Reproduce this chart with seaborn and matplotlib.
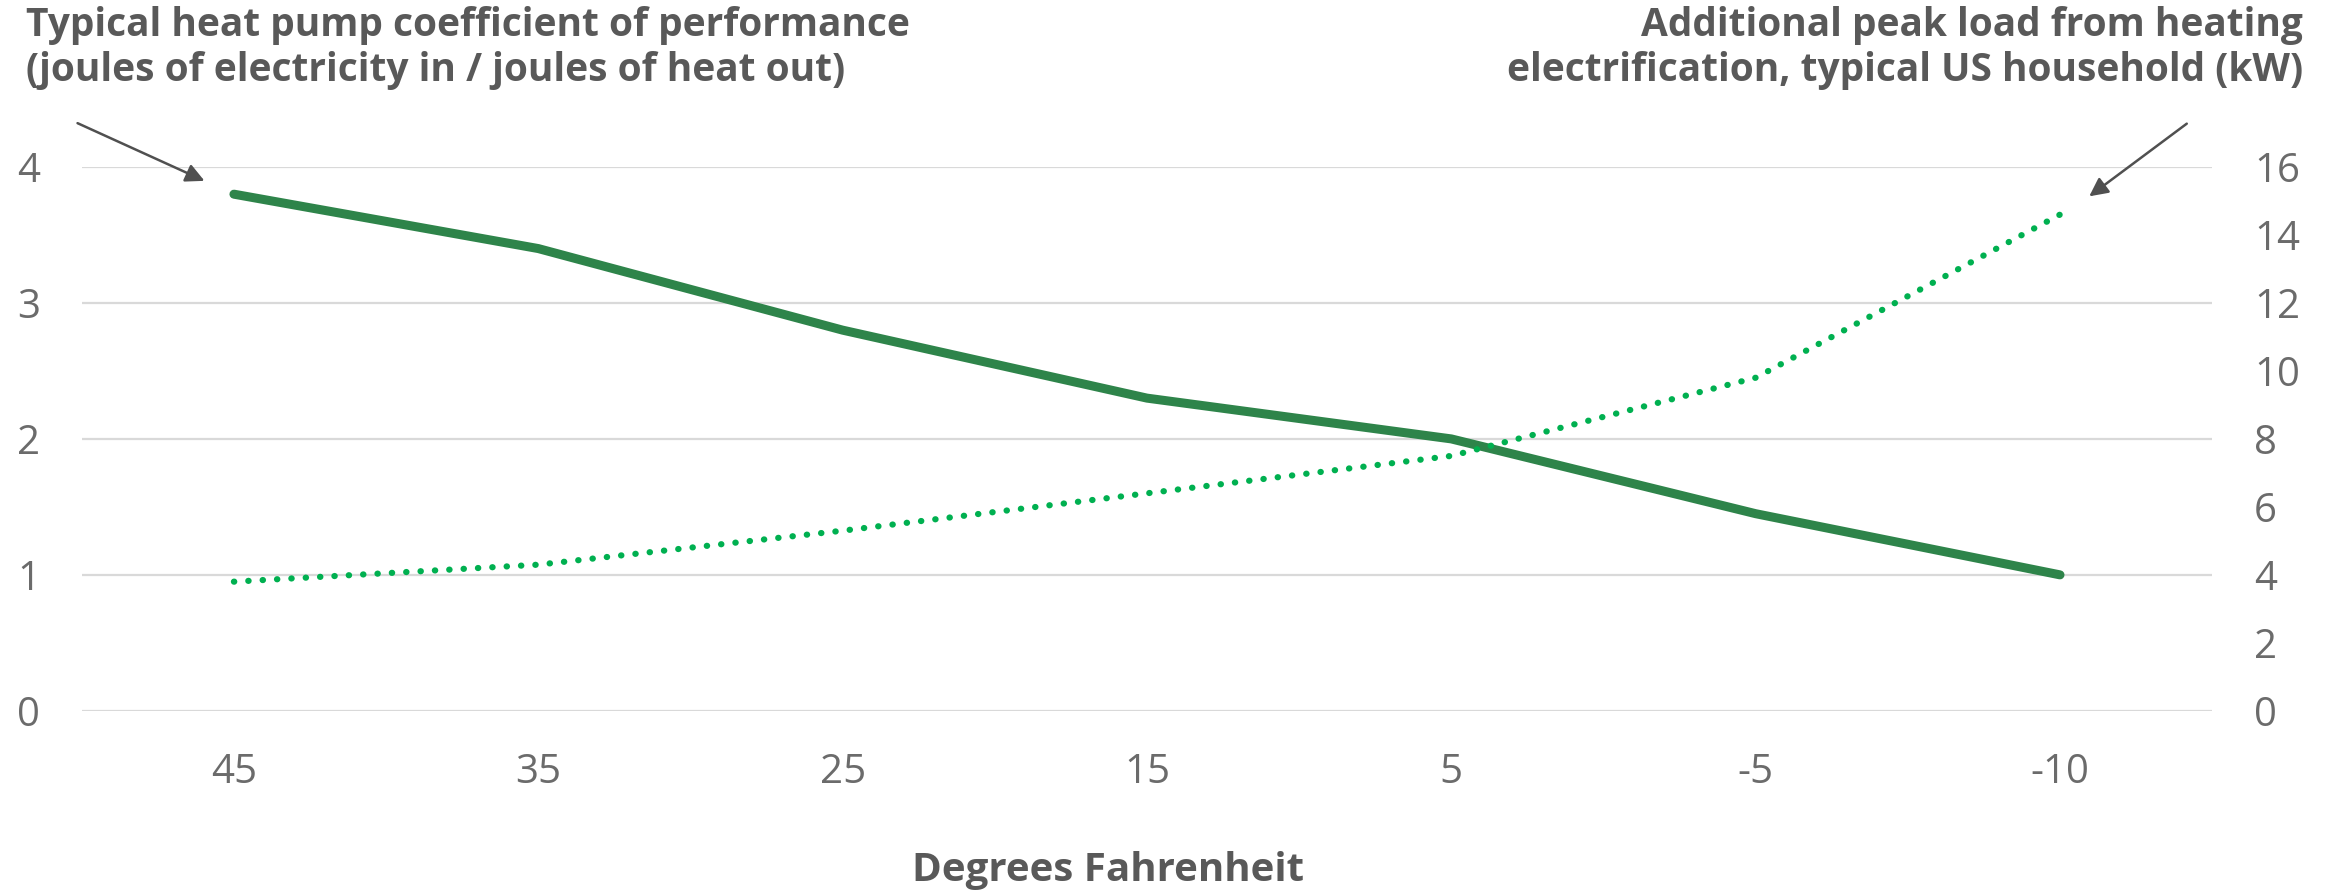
import pandas as pd
import seaborn as sns
import matplotlib.pyplot as plt

# values
temps = ["45", "35", "25", "15", "5", "-5", "-10"]
cop = [3.8, 3.4, 2.8, 2.3, 2.0, 1.45, 1.0]
peak_load_kw = [3.8, 4.3, 5.3, 6.4, 7.5, 9.8, 14.6]

left_title = "Typical heat pump coefficient of performance\n(joules of electricity in / joules of heat out)"
right_title = "Additional peak load from heating\nelectrification, typical US household (kW)"
x_title = "Degrees Fahrenheit"

df = pd.DataFrame({"Temp": temps, "COP": cop, "Load": peak_load_kw})

text_grey = "#595959"
tick_grey = "#6b6b6b"
dark_green = "#2E844A"
bright_green = "#00B050"

sns.set_theme(style="white")
plt.rcParams['font.family'] = ['Open Sans', 'DejaVu Sans']

fig = plt.figure(figsize=(23.36, 8.93), dpi=100)
ax = fig.add_axes([0.035, 0.204, 0.912, 0.609])
ax2 = ax.twinx()

sns.lineplot(data=df, x="Temp", y="COP", ax=ax, color=dark_green, lw=6.5,
             solid_capstyle="round", solid_joinstyle="round", sort=False, zorder=3)
sns.lineplot(data=df, x="Temp", y="Load", ax=ax2, color=bright_green, lw=4.5,
             linestyle=(0, (0.05, 2.25)), dash_capstyle="round", sort=False)

ax.set_xlim(-0.5, len(temps) - 0.5)
ax.set_ylim(0, 4)
ax2.set_ylim(0, 16)
ax.set_yticks(range(0, 5))
ax2.set_yticks(range(0, 17, 2))

ax.grid(axis="y", color="#d9d9d9", lw=1.6)
ax.grid(axis="x", visible=False)
ax2.grid(False)
for a in (ax, ax2):
    for s in a.spines.values():
        s.set_visible(False)
    a.set_xlabel("")
    a.set_ylabel("")

ax.tick_params(axis="y", length=0, pad=30, labelsize=29, labelcolor=tick_grey)
ax.tick_params(axis="x", length=0, pad=30, labelsize=29, labelcolor=tick_grey)
ax2.tick_params(axis="y", length=0, pad=30, labelsize=29, labelcolor=tick_grey)

# axis titles as in the reference
fig.text(26 / 2336, 1 - 6 / 893, left_title, ha="left", va="top", fontsize=28,
         fontweight="bold", color=text_grey, linespacing=1.2)
fig.text(2303 / 2336, 1 - 6 / 893, right_title, ha="right", va="top", fontsize=28,
         fontweight="bold", color=text_grey, linespacing=1.2)
fig.text(1108 / 2336, 1 - 871 / 893, x_title, ha="center", va="center", fontsize=29,
         fontweight="bold", color=text_grey)

# pointer arrows to each series
arrow = dict(arrowstyle="-|>", color="#505050", lw=1.8, mutation_scale=28)
fig.add_artist(plt.matplotlib.patches.FancyArrowPatch(
    (75 / 2336, 1 - 122 / 893), (207 / 2336, 1 - 182 / 893),
    transform=fig.transFigure, **arrow))
fig.add_artist(plt.matplotlib.patches.FancyArrowPatch(
    (2189 / 2336, 1 - 122 / 893), (2087 / 2336, 1 - 198 / 893),
    transform=fig.transFigure, **arrow))

fig.savefig("out.png", dpi=100)
